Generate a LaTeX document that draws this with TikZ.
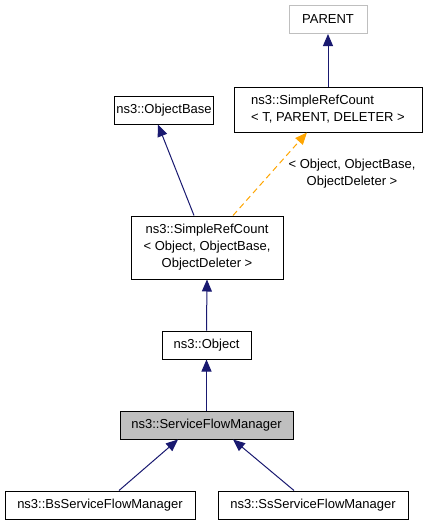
\documentclass[tikz,border=0pt]{standalone}
\usepackage{fontspec}
\setmainfont{Liberation Sans}
\usetikzlibrary{arrows.meta,calc}
\definecolor{edgeblue}{RGB}{25,25,112}
\definecolor{edgeorange}{RGB}{255,165,0}
\definecolor{boxgray}{RGB}{191,191,191}
\tikzset{
  cls/.style={draw=black,line width=1pt,rectangle,inner sep=2pt,
    minimum height=28pt,font=\fontsize{13}{17}\selectfont},
  inh/.style={draw=edgeblue,line width=1pt,-{Triangle[length=12pt,width=10pt]}},
  tmpl/.style={draw=edgeorange,line width=1pt,dash pattern=on 6pt off 4pt,
    -{Triangle[length=12pt,width=10pt]}}
}
\begin{document}
\begin{tikzpicture}[x=1pt,y=-1pt]
        \useasboundingbox (0,0) rectangle (427,525);

        %%%%%%%%%% Nodes %%%%%%%%%%
        \node[cls,draw=boxgray,minimum width=78pt] (parent) at (328,19.5) {PARENT};
        \node[cls,align=left,minimum width=188pt,minimum height=45pt] (srct) at (328,109.5)
            {ns3::SimpleRefCount\\< T, PARENT, DELETER >};
        \node[cls,minimum width=92pt] (objbase) at (164,110) {ns3::ObjectBase};
        \node[cls,align=center,minimum width=152pt,minimum height=63pt] (srco) at (207,247.5)
            {ns3::SimpleRefCount\\< Object, ObjectBase,\\ObjectDeleter >};
        \node[cls,minimum width=89pt] (obj) at (206.5,345) {ns3::Object};
        \node[cls,fill=boxgray,minimum width=173pt] (sfm) at (206.5,425) {ns3::ServiceFlowManager};
        \node[cls,minimum width=190pt] (bs) at (100,505) {ns3::BsServiceFlowManager};
        \node[cls,minimum width=190pt] (ss) at (313,505) {ns3::SsServiceFlowManager};

        %%%%%%%%% Arrows %%%%%%%%%
        \draw[inh] (srct.north) -- (parent.south);
        \draw[inh] ($(srco.north)+(-13,0)$) -- ($(objbase.south)+(-6,0)$);
        \draw[tmpl] ($(srco.north)+(26,0)$) -- ($(srct.south)+(-21,0)$);
        \node[align=center,font=\fontsize{13}{17}\selectfont] (tlabel) at (352,174)
            {< Object, ObjectBase,\\ObjectDeleter >};
        \draw[inh] (obj.north) -- (srco.south);
        \draw[inh] (sfm.north) -- (obj.south);
        \draw[inh] ($(bs.north)+(19,0)$) -- ($(sfm.south)+(-28.5,0)$);
        \draw[inh] ($(ss.north)+(-19,0)$) -- ($(sfm.south)+(26.5,0)$);
    \end{tikzpicture}
\end{document}
